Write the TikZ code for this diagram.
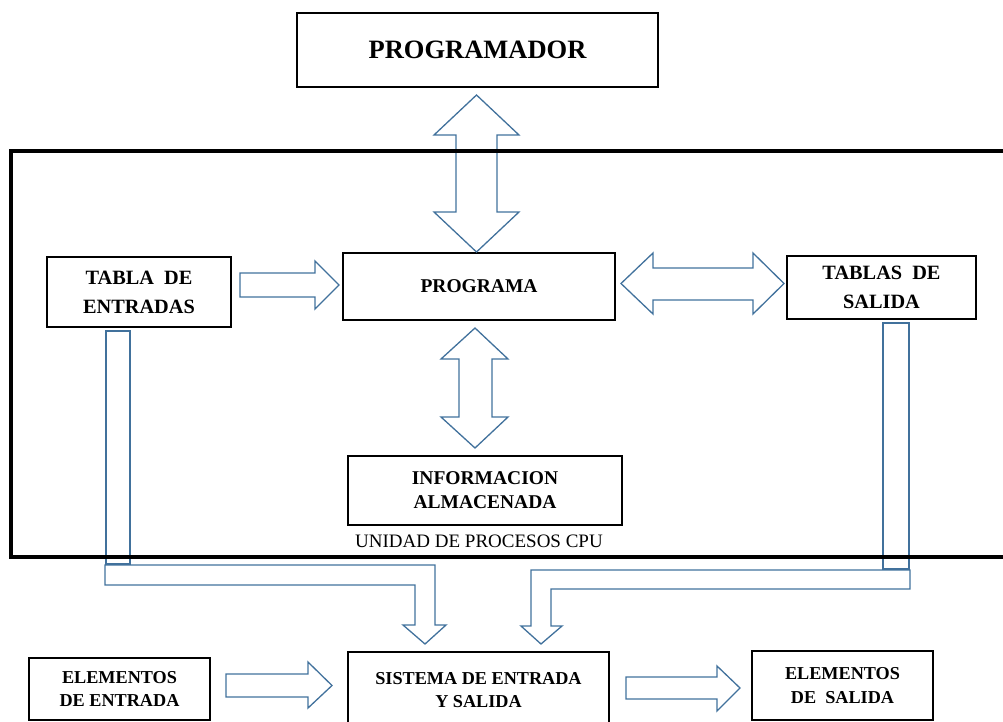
\documentclass[tikz,border=0pt]{standalone}
\usepackage{fontspec}
\setmainfont{Liberation Serif}
\definecolor{arrowblue}{RGB}{65,113,156}
\newcommand\fsTitle{\fontsize{26.5}{30}\selectfont}
\newcommand\fsBox{\fontsize{20.3}{29}\selectfont}
\newcommand\fsMid{\fontsize{19.5}{24}\selectfont}
\newcommand\fsSmall{\fontsize{18.2}{23.5}\selectfont}
\newcommand\fsLabel{\fontsize{19}{20}\selectfont}
\tikzset{
  box/.style={draw=black, line width=1.7pt, inner sep=0pt, align=center, font=\bfseries},
  blockarrow/.style={draw=arrowblue, line width=1.3pt, line join=miter},
  frameline/.style={draw=black, line width=3.6pt},
}
\begin{document}
\begin{tikzpicture}[x=1pt,y=-1pt]
\useasboundingbox (0,0) rectangle (1003,721);
\clip (0,0) rectangle (1003,721);

% boxes
\node[box, minimum width=361pt, minimum height=74pt, font=\bfseries\fsTitle] (programador) at (477.5,50) {PROGRAMADOR};
\node[box, minimum width=184pt, minimum height=70pt, font=\bfseries\fsBox] (tablaent) at (139,292) {TABLA\ \ DE\\ENTRADAS};
\node[box, minimum width=272pt, minimum height=67pt, font=\bfseries\fsMid] (programa) at (479,286.5) {PROGRAMA};
\node[box, minimum width=189pt, minimum height=63pt, font=\bfseries\fsBox] (tablasal) at (881.5,287.5) {TABLAS\ \ DE\\SALIDA};
\node[box, minimum width=274pt, minimum height=69pt, font=\bfseries\fsMid] (info) at (485,490.5) {INFORMACION\\ALMACENADA};
\node[box, minimum width=181pt, minimum height=62pt, font=\bfseries\fsSmall] (element) at (119.5,689) {ELEMENTOS\\DE ENTRADA};
\node[box, minimum width=261pt, minimum height=76pt, font=\bfseries\fsSmall] (sistema) at (478.5,690) {SISTEMA DE ENTRADA\\Y SALIDA};
\node[box, minimum width=181pt, minimum height=69pt, font=\bfseries\fsSmall] (elemsal) at (842.5,685.5) {ELEMENTOS\\DE\ \ SALIDA};

% vertical bars leaving the tables
\draw[blockarrow] (106,331) rectangle (130,564);
\draw[blockarrow] (883,323) rectangle (909,569);

% block arrows
% programador <-> programa
\draw[blockarrow] (476.5,95) -- (519,135) -- (497,135) -- (497,212) -- (519,212) -- (476.5,252)
  -- (434,212) -- (456,212) -- (456,135) -- (434,135) -- cycle;
% tabla de entradas -> programa
\draw[blockarrow] (240,273) -- (315,273) -- (315,261) -- (339,285) -- (315,309) -- (315,297) -- (240,297) -- cycle;
% programa <-> tablas de salida
\draw[blockarrow] (621,283.5) -- (653,253) -- (653,268) -- (753,268) -- (753,253) -- (784,283.5)
  -- (753,314) -- (753,300) -- (653,300) -- (653,314) -- cycle;
% programa <-> informacion almacenada
\draw[blockarrow] (475,328) -- (508,359) -- (492,359) -- (492,417) -- (508,417) -- (475,448)
  -- (441,417) -- (459,417) -- (459,359) -- (441,359) -- cycle;
% entradas -> sistema
\draw[blockarrow] (105,565) -- (435,565) -- (435,625) -- (446,625) -- (425,644) -- (403,625)
  -- (415,625) -- (415,585) -- (105,585) -- cycle;
% salidas -> sistema
\draw[blockarrow] (910,570) -- (910,589) -- (551,589) -- (551,626) -- (562,626) -- (541,644)
  -- (521,626) -- (531,626) -- (531,570) -- cycle;
% elementos de entrada -> sistema
\draw[blockarrow] (226,674) -- (308,674) -- (308,662) -- (332,685.5) -- (308,708) -- (308,697) -- (226,697) -- cycle;
% sistema -> elementos de salida
\draw[blockarrow] (626,677) -- (717,677) -- (717,666) -- (740,688) -- (717,711) -- (717,699) -- (626,699) -- cycle;

% processing unit frame
\draw[frameline] (1010,151) -- (11,151) -- (11,557) -- (1010,557);
\node[anchor=base, font=\fsLabel, inner sep=0pt] (cpu) at (479,547) {UNIDAD DE PROCESOS CPU};
\end{tikzpicture}
\end{document}
